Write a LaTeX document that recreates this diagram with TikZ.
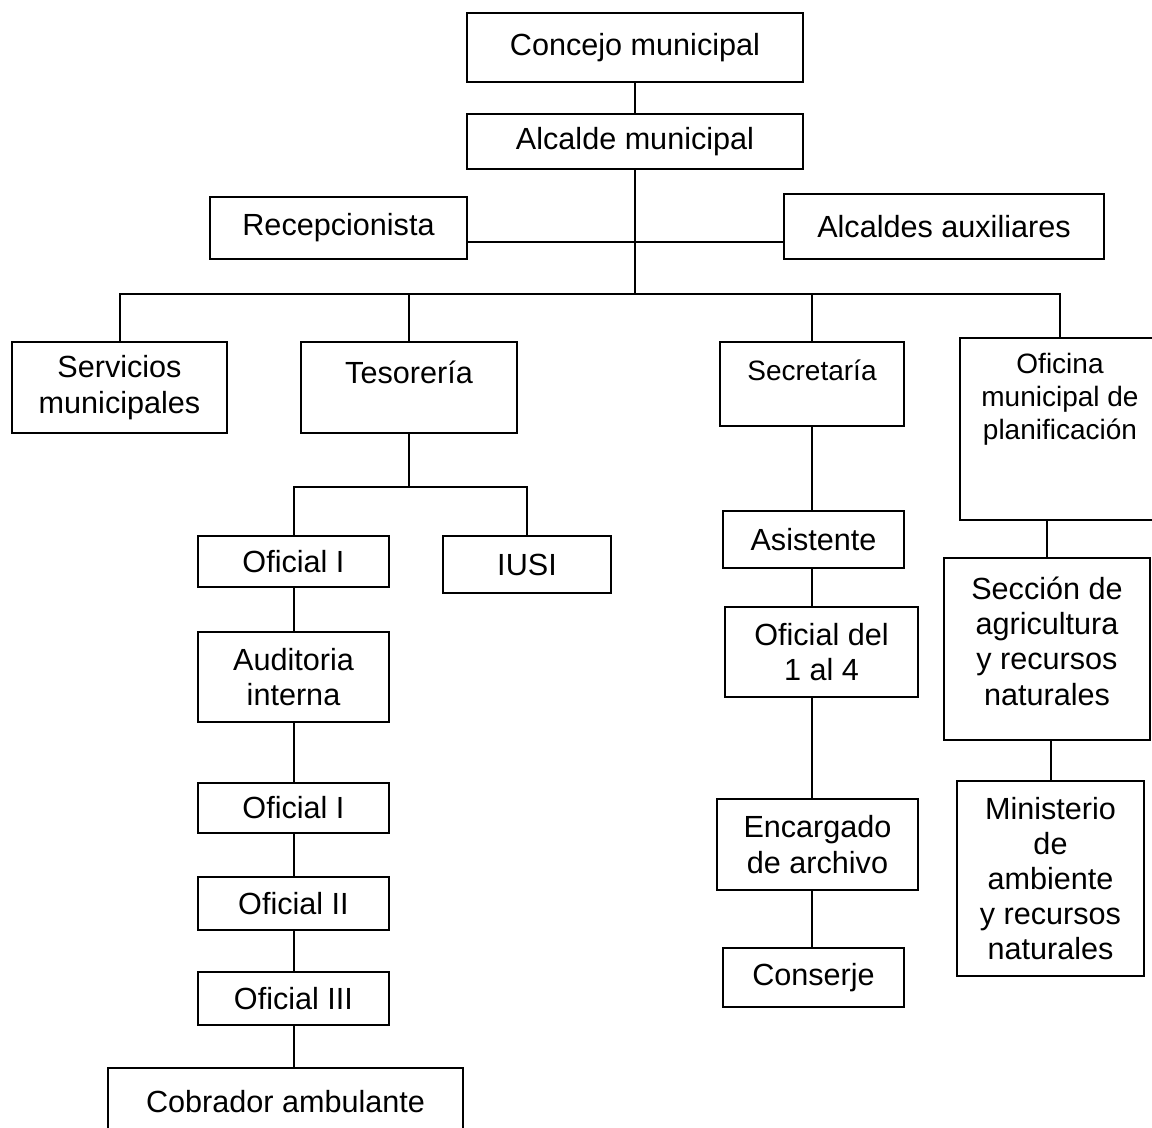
\documentclass[tikz,border=0pt]{standalone}
\usepackage{fontspec}
\setmainfont{Liberation Sans}
\usetikzlibrary{calc}

\begin{document}
\begin{tikzpicture}[x=0.5pt,y=-0.5pt,
  orgbox/.style={draw,line width=1pt,inner sep=0pt,align=center,
    font=\fontsize{15.3}{17.6}\selectfont},
  smallbox/.style={orgbox,font=\fontsize{14}{16.3}\selectfont},
  link/.style={line width=1pt}]
\useasboundingbox (0,0) rectangle (1152,1128);

\node[orgbox,minimum width=168pt,minimum height=34.5pt] (concejo) at (635,47.5) {Concejo municipal};
\node[orgbox,minimum width=168pt,minimum height=27.5pt] (alcalde) at (635,141.5) {Alcalde municipal};
\node[orgbox,minimum width=128.5pt,minimum height=31pt] (recep) at (338.5,228) {Recepcionista};
\node[orgbox,minimum width=160pt,minimum height=32.5pt] (aux) at (944,226.5) {Alcaldes auxiliares};

\node[orgbox,minimum width=107.5pt,minimum height=45.5pt] (serv) at (119.5,387.5) {Servicios\\municipales};
\node[orgbox,minimum width=108pt,minimum height=45.5pt] (tes) at (409,387.5) {Tesorería\\[-2pt]\mbox{}};
\node[smallbox,minimum width=92pt,minimum height=42pt] (sec) at (812,384) {Secretaría\\[-2.3pt]\mbox{}};
\node[smallbox,minimum width=100pt,minimum height=91pt] (ofi) at (1060,429) {Oficina\\municipal de\\planificación\\\mbox{}\\\mbox{}};

\node[orgbox,minimum width=95.5pt,minimum height=25.5pt] (of1) at (293.5,561.5) {Oficial I};
\node[orgbox,minimum width=84pt,minimum height=28.5pt] (iusi) at (527,564.5) {IUSI};
\node[orgbox,minimum width=95.5pt,minimum height=45pt] (aud) at (293.5,677) {Auditoria\\interna};
\node[orgbox,minimum width=95.5pt,minimum height=25pt] (of1b) at (293.5,808) {Oficial I};
\node[orgbox,minimum width=95.5pt,minimum height=26.5pt] (of2) at (293.5,903.5) {Oficial II};
\node[orgbox,minimum width=95.5pt,minimum height=26.5pt] (of3) at (293.5,998.5) {Oficial III};
\node[orgbox,minimum width=177.5pt,minimum height=33.5pt] (cob) at (285.5,1101.5) {Cobrador ambulante};

\node[orgbox,minimum width=90.5pt,minimum height=28.5pt] (asis) at (813.5,539.5) {Asistente};
\node[orgbox,minimum width=96.5pt,minimum height=45pt] (ofdel) at (821.5,652) {Oficial del\\1 al 4};
\node[orgbox,minimum width=100.5pt,minimum height=45.5pt] (enc) at (817.5,844.5) {Encargado\\de archivo};
\node[orgbox,minimum width=90.5pt,minimum height=29.5pt] (cons) at (813.5,977.5) {Conserje};

\node[orgbox,minimum width=103pt,minimum height=91pt] (secc) at (1047,649) {Sección de\\agricultura\\y recursos\\naturales\\[-9.6pt]\mbox{}};
\node[orgbox,minimum width=93.5pt,minimum height=97.5pt] (min) at (1050.5,878.5) {Ministerio\\de\\ambiente\\y recursos\\naturales};

\coordinate (hub) at (635,294);
\coordinate (mid) at (635,242);
\coordinate (tesfork) at (409,487);

\draw[link] (concejo) -- (alcalde);
\draw[link] (alcalde.south) -- (hub);
\draw[link] (recep.east |- mid) -- (aux.west |- mid);
\draw[link] (serv.north) -- (serv.north |- hub) -- (ofi.north |- hub) -- (ofi.north);
\draw[link] (tes.north) -- (tes.north |- hub);
\draw[link] (sec.north) -- (sec.north |- hub);

\draw[link] (tes.south) -- (tesfork);
\draw[link] (of1.north) -- (of1.north |- tesfork) -- (iusi.north |- tesfork) -- (iusi.north);
\foreach \a/\b in {of1/aud,aud/of1b,of1b/of2,of2/of3}
  \draw[link] (\a) -- (\b);
\draw[link] (of3.south) -- (of3.south |- cob.north);

\foreach \a/\b in {sec/asis,asis/ofdel,ofdel/enc,enc/cons}
  \draw[link] (sec.south |- \a.south) -- (sec.south |- \b.north);

\draw[link] (secc.north) -- (secc.north |- ofi.south);
\draw[link] (secc.south -| min.north) -- (min.north);

\end{tikzpicture}
\end{document}
